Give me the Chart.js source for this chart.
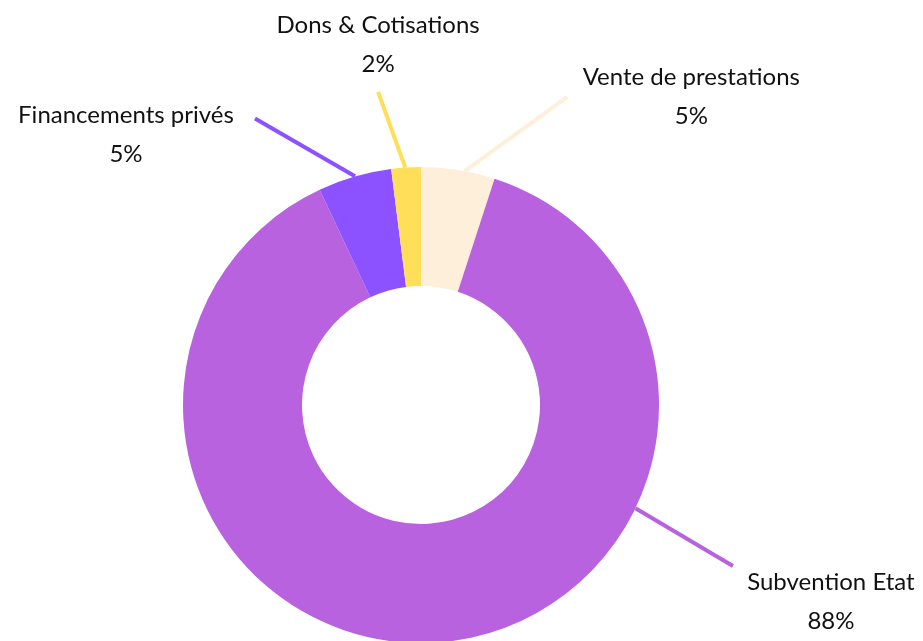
<!DOCTYPE html>
<html>
<head>
<meta charset="utf-8">
<script src="https://cdn.jsdelivr.net/npm/chart.js@4.4.1/dist/chart.umd.min.js"></script>
<style>
  html, body { margin: 0; padding: 0; background: #fff; overflow: hidden; }
  #wrap { width: 923px; height: 650px; position: relative; }
</style>
</head>
<body>
<div id="wrap"><canvas id="budgetChart"></canvas></div>
<script>
// données du graphique
const categories = ['Vente de prestations', 'Subvention Etat', 'Financements privés', 'Dons & Cotisations'];
const shares = [5, 88, 5, 2];
const sliceColors = ['#feefdb', '#b862e0', '#8c52ff', '#ffde59'];

// position des étiquettes (angles en degrés depuis le haut, sens horaire)
const callouts = [
  { from: 10.6, to: 25.4, toR: 1.433, dx: 124, dy: -12 },
  { from: 115.7, to: 117.3, toR: 1.475, dx: 98, dy: 24 },
  { from: 343.9, to: 329.9, toR: 1.391, dx: -129, dy: 4 },
  { from: 356.2, to: 352.2, toR: 1.328, dx: 0, dy: -59 }
];

const calloutPlugin = {
  id: 'callouts',
  afterDraw: (chart) => {
    const ctx = chart.ctx;
    const meta = chart.getDatasetMeta(0);
    const first = meta.data[0];
    const cx = first.x, cy = first.y, R = first.outerRadius;
    const data = chart.data.datasets[0].data;
    const total = data.reduce((a, b) => a + b, 0);

    const pt = (deg, r) => {
      const a = deg * Math.PI / 180;
      return { x: cx + r * Math.sin(a), y: cy - r * Math.cos(a) };
    };

    ctx.save();
    callouts.forEach((c, i) => {
      const p1 = pt(c.from, R);
      const p2 = pt(c.to, R * c.toR);
      ctx.strokeStyle = sliceColors[i];
      ctx.lineWidth = 4;
      ctx.beginPath();
      ctx.moveTo(p1.x, p1.y);
      ctx.lineTo(p2.x, p2.y);
      ctx.stroke();

      ctx.fillStyle = '#111';
      ctx.font = '24px Lato';
      ctx.textAlign = 'center';
      ctx.textBaseline = 'alphabetic';
      const tx = p2.x + c.dx, ty = p2.y + c.dy;
      ctx.fillText(chart.data.labels[i], tx, ty);
      ctx.fillText(Math.round(data[i] / total * 100) + '%', tx, ty + 39);
    });
    ctx.restore();
  }
};

new Chart(document.getElementById('budgetChart').getContext('2d'), {
  type: 'doughnut',
  data: {
    labels: categories,
    datasets: [{
      data: shares,
      backgroundColor: sliceColors,
      borderWidth: 0,
      hoverOffset: 0
    }]
  },
  options: {
    responsive: true,
    maintainAspectRatio: false,
    animation: false,
    events: [],
    cutout: '50%',
    layout: { padding: { top: 167, left: 183, right: 264, bottom: 7 } },
    plugins: {
      legend: { display: false },
      tooltip: { enabled: false }
    }
  },
  plugins: [calloutPlugin]
});
</script>
</body>
</html>
